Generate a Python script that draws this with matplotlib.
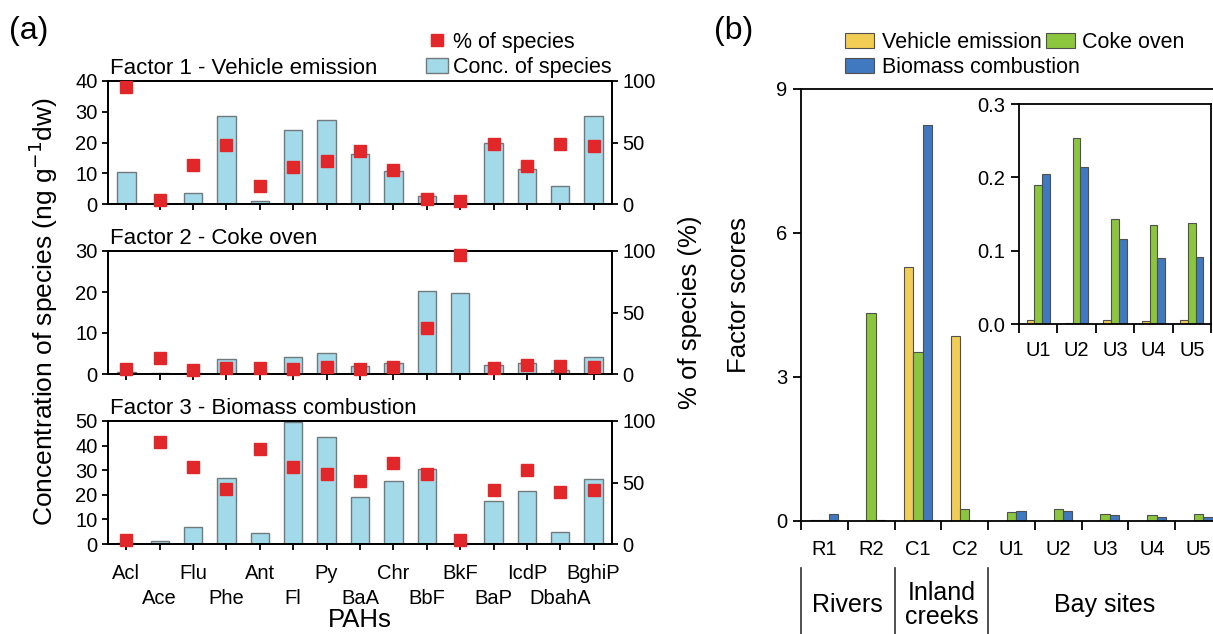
import matplotlib

matplotlib.use("Agg")
import matplotlib.pyplot as plt
from matplotlib.lines import Line2D
from matplotlib.patches import Patch

plt.rcParams["font.family"] = ["Liberation Sans", "DejaVu Sans"]

# ------- (a) PMF factor profiles -------
pahs = ["Acl", "Ace", "Flu", "Phe", "Ant", "Fl", "Py", "BaA", "Chr", "BbF",
        "BkF", "BaP", "IcdP", "DbahA", "BghiP"]

conc_f1 = [10.5, 0.4, 3.7, 28.5, 1.0, 24.2, 27.2, 16.4, 10.7, 2.6, 0.3, 19.7, 11.4, 5.8, 28.5]
pct_f1 = [95, 3, 32, 48, 15, 30, 35, 43, 27.5, 4, 2.7, 49, 31, 48.5, 47]

conc_f2 = [0.6, 0.15, 0.3, 3.6, 0.3, 4.2, 5.2, 2.0, 2.8, 20.3, 19.8, 2.2, 2.8, 1.0, 4.2]
pct_f2 = [4, 13, 3, 5, 5, 4.3, 6, 4.3, 6, 37, 97, 5, 7.5, 6.5, 6]

conc_f3 = [0.3, 1.1, 7.1, 26.8, 4.6, 49.5, 43.6, 19.0, 25.5, 30.6, 0.3, 17.5, 21.7, 4.9, 26.4]
pct_f3 = [3, 83, 63, 44.5, 77.5, 63, 57, 51, 65.5, 57, 3, 43.5, 60.5, 42.5, 44]

factor_titles = ["Factor 1 - Vehicle emission", "Factor 2 - Coke oven",
                 "Factor 3 - Biomass combustion"]
conc_yticks = [[0, 10, 20, 30, 40], [0, 10, 20, 30], [0, 10, 20, 30, 40, 50]]
pct_yticks = [0, 50, 100]

# ------- (b) factor scores per site -------
sites = ["R1", "R2", "C1", "C2", "U1", "U2", "U3", "U4", "U5"]
score_vehicle = [0.02, 0.01, 5.29, 3.86, 0.0055, 0.001, 0.006, 0.004, 0.005]
score_coke = [0.02, 4.33, 3.53, 0.24, 0.189, 0.253, 0.143, 0.135, 0.138]
score_biomass = [0.15, 0.02, 8.26, 0.0, 0.204, 0.214, 0.116, 0.090, 0.092]
score_yticks = [0, 3, 6, 9]
inset_sites = sites[4:]
inset_yticks = [0.0, 0.1, 0.2, 0.3]

site_groups = ["Rivers", "Inland\ncreeks", "Bay sites"]
group_first = [0, 2, 4]
group_last = [1, 3, 8]

# couleurs
BAR_BLUE = "#A3DAEA"
BAR_EDGE = "#70797C"
RED = "#E2272B"
C_VEH = "#F2CD55"
C_COKE = "#8CC63F"
C_BIO = "#4079BF"
SCORE_EDGE = "#505050"

W, H = 1213, 634
TICK_FS = 14.5


def fx(px):
    return px / W


def fy(px):
    return 1 - px / H


def style_axis(ax):
    for sp in ax.spines.values():
        sp.set_linewidth(1.3)
    ax.tick_params(direction="out", width=1.3, length=4.5, labelsize=TICK_FS, pad=3)


def main() -> None:
    fig = plt.figure(figsize=(W / 100, H / 100), dpi=100)

    # ------- panneau (a) : trois profils empilés -------
    tops = [81, 251, 421]
    height = 123
    x = list(range(len(pahs)))
    concs = [conc_f1, conc_f2, conc_f3]
    pcts = [pct_f1, pct_f2, pct_f3]

    for k in range(3):
        ax = fig.add_axes([fx(108), fy(tops[k] + height), fx(504), height / H])
        ax.bar(x, concs[k], width=0.55, color=BAR_BLUE, edgecolor=BAR_EDGE,
               linewidth=1.0, zorder=2)
        ax.set_xlim(-0.55, 14.55)
        ax.set_ylim(conc_yticks[k][0], conc_yticks[k][-1])
        ax.set_yticks(conc_yticks[k])
        style_axis(ax)

        ax2 = ax.twinx()
        ax2.plot(x, pcts[k], "s", color=RED, markersize=8, zorder=3,
                 clip_on=False)
        ax2.set_ylim(0, 100)
        ax2.set_yticks(pct_yticks)
        style_axis(ax2)

        ax.text(0.004, 1 + 7 / height, factor_titles[k], transform=ax.transAxes,
                fontsize=16, va="baseline", ha="left")

        # étiquettes alternées: rangée haute en majeur, rangée basse en mineur
        ax.set_xticks(x[0::2])
        ax.set_xticks(x[1::2], minor=True)
        ax.tick_params(axis="x", which="minor", direction="out", width=1.3,
                       length=4.5, labelsize=TICK_FS)
        if k < 2:
            ax.set_xticklabels([])
            ax.set_xticklabels([], minor=True)
        else:
            ax.set_xticklabels(pahs[0::2])
            ax.set_xticklabels(pahs[1::2], minor=True)
            ax.tick_params(axis="x", which="major", pad=10)
            ax.tick_params(axis="x", which="minor", pad=28)
            ax.set_xlabel("PAHs", fontsize=18.5, labelpad=0)

        if k == 0:
            handles = [
                Line2D([], [], marker="s", linestyle="none", color=RED, markersize=8.5),
                Patch(facecolor=BAR_BLUE, edgecolor=BAR_EDGE, linewidth=1.0),
            ]
            fig.legend(handles, ["% of species", "Conc. of species"],
                       loc="upper right", bbox_to_anchor=(fx(612), fy(32)),
                       frameon=False, fontsize=15.5, handlelength=1.0,
                       handleheight=0.7, handletextpad=0.25, borderpad=0,
                       borderaxespad=0, labelspacing=0.2)

    fig.text(fx(43), fy(312), "Concentration of species (ng g$^{-1}$dw)",
             rotation=90, ha="center", va="center", fontsize=19)
    fig.text(fx(690), fy(312), "% of species (%)", rotation=90,
             ha="center", va="center", fontsize=18.5)
    fig.text(fx(9), fy(31), "(a)", fontsize=23, ha="left", va="center")

    # ------- panneau (b) : scores par site -------
    axb = fig.add_axes([fx(801), fy(521), fx(421), 432 / H])
    xs = list(range(len(sites)))
    bw = 0.2
    for off, vals, col in [(-bw, score_vehicle, C_VEH), (0, score_coke, C_COKE),
                           (bw, score_biomass, C_BIO)]:
        axb.bar([v + off for v in xs], vals, width=bw, color=col,
                edgecolor=SCORE_EDGE, linewidth=0.8, zorder=2)
    axb.set_xlim(-0.5, 8.5)
    axb.set_ylim(0, 9)
    axb.set_yticks(score_yticks)
    axb.spines["right"].set_visible(False)
    style_axis(axb)
    axb.tick_params(axis="y", length=6, pad=4)
    axb.set_xticks([v - 0.5 for v in xs] + [8.5])
    axb.set_xticklabels([])
    axb.tick_params(axis="x", which="major", length=6.5)
    axb.set_xticks(xs, minor=True)
    axb.set_xticklabels(sites, minor=True)
    axb.tick_params(axis="x", which="minor", length=0, pad=14, labelsize=TICK_FS)
    fig.text(fx(739), fy(295), "Factor scores", rotation=90, ha="center",
             va="center", fontsize=18.5)
    fig.text(fx(714), fy(31), "(b)", fontsize=23, ha="left", va="center")

    # groupes de sites sous l'axe
    tr = axb.get_xaxis_transform()
    for first, last, name in zip(group_first, group_last, site_groups):
        axb.plot([first - 0.5, first - 0.5], [-47 / 432, -115 / 432], color="#333333",
                 linewidth=1.2, transform=tr, clip_on=False)
        axb.text((first + last) / 2, -84 / 432, name, transform=tr, ha="center",
                 va="center", fontsize=18, linespacing=1.05)

    # encart : zoom sur les sites de la baie
    axi = fig.add_axes([fx(1019), fy(324), fx(192), 220 / H])
    xi = list(range(len(inset_sites)))
    for off, vals, col in [(-bw, score_vehicle[4:], C_VEH), (0, score_coke[4:], C_COKE),
                           (bw, score_biomass[4:], C_BIO)]:
        axi.bar([v + off for v in xi], vals, width=bw, color=col,
                edgecolor=SCORE_EDGE, linewidth=0.8, zorder=2)
    axi.set_xlim(-0.5, 4.5)
    axi.set_ylim(0, 0.3)
    axi.set_yticks(inset_yticks)
    axi.set_yticklabels([f"{t:.1f}" for t in inset_yticks])
    style_axis(axi)
    axi.tick_params(axis="y", length=6, pad=4)
    axi.set_xticks([v - 0.5 for v in xi] + [4.5])
    axi.set_xticklabels([])
    axi.tick_params(axis="x", which="major", length=6.5)
    axi.set_xticks(xi, minor=True)
    axi.set_xticklabels(inset_sites, minor=True)
    axi.tick_params(axis="x", which="minor", length=0, pad=12, labelsize=TICK_FS)

    # légende (b) : deux rangées, la seconde sous la première
    leg_kw = dict(loc="upper left", frameon=False, fontsize=15.5, handlelength=1.35,
                  handleheight=0.7, handletextpad=0.35, columnspacing=0.2,
                  borderpad=0, borderaxespad=0)
    fig.legend([Patch(facecolor=C_VEH, edgecolor=SCORE_EDGE, linewidth=0.8),
                Patch(facecolor=C_COKE, edgecolor=SCORE_EDGE, linewidth=0.8)],
               ["Vehicle emission", "Coke oven"], ncol=2,
               bbox_to_anchor=(fx(845), fy(32)), **leg_kw)
    fig.legend([Patch(facecolor=C_BIO, edgecolor=SCORE_EDGE, linewidth=0.8)],
               ["Biomass combustion"], bbox_to_anchor=(fx(845), fy(57)), **leg_kw)

    fig.savefig("out.png", dpi=100)


if __name__ == "__main__":
    main()
